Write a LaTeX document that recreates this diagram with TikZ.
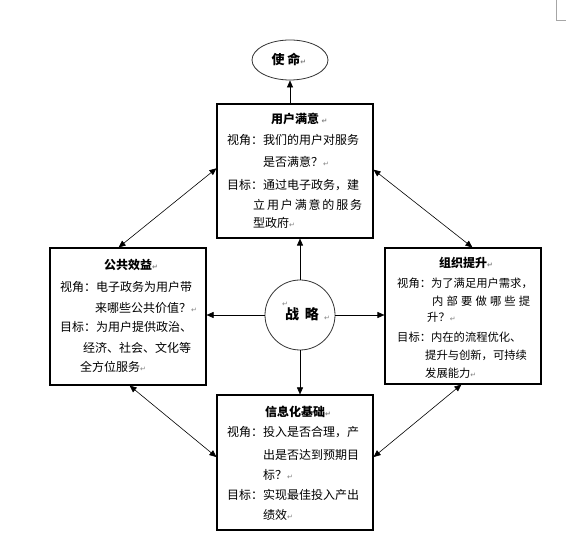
\documentclass[tikz,border=0pt]{standalone}
\usepackage{fontspec}
\setmainfont{Noto Sans CJK SC}
\newfontfamily\symfont{DejaVu Sans}
\usetikzlibrary{arrows.meta,calc,shapes.geometric}
\newcommand\pmark{{\symfont\fontsize{7}{7}\selectfont\color{gray}↵}}
\begin{document}
\begin{tikzpicture}[x=1pt,y=-1pt,
  box/.style={draw, line width=1.1pt, inner sep=0pt},
  txt/.style={anchor=base west, inner sep=0pt, font=\fontsize{12}{12}\selectfont},
  txts/.style={anchor=base west, inner sep=0pt, font=\fontsize{11.3}{12}\selectfont},
  head/.style={anchor=base, inner sep=0pt, font=\bfseries\fontsize{12}{12}\selectfont},
  tip/.style={-{Triangle[length=7pt,width=6pt]}, line width=0.6pt},
  dtip/.style={{Triangle[length=7pt,width=6pt]}-{Triangle[length=7pt,width=6pt]}, line width=0.6pt},
  round/.style={draw=black!80, line width=0.8pt, inner sep=0pt}]
\useasboundingbox (0,0) rectangle (566,540);
% page corner mark
\draw[gray!70, line width=0.6pt] (556,0) -- (556,20) -- (566,20);

% shapes
\node[round, ellipse, minimum width=76pt, minimum height=40pt] (mission) at (290,60) {};
\node[round, circle, minimum size=70pt] (strat) at (300,315) {};
\node[box, minimum width=156pt, minimum height=134pt] (top) at (295,171) {};
\node[box, minimum width=156pt, minimum height=137pt] (left) at (128,316.5) {};
\node[box, minimum width=156pt, minimum height=136pt] (right) at (463,316) {};
\node[box, minimum width=156pt, minimum height=135pt] (bottom) at (295,462.5) {};

% mission / strategy texts
\node[head, font=\bfseries\fontsize{13}{13}\selectfont] (mt) at (286,65) {使 命\rlap{\pmark}};
\node[head, font=\bfseries\fontsize{14}{14}\selectfont] (st) at (302,320) {战\hspace{6pt}略};
\node[inner sep=0pt] (sm1) at (285,304) {\pmark};
\node[inner sep=0pt] (sm2) at (327,318) {\pmark};

% top box
\node[head] (th) at (295,123.5) {用户满意\rlap{\ \pmark}};
\node[txt] (t1) at (227,144.5) {视角：我们的用户对服务};
\node[txt] (t2) at (263,166.5) {是否满意？\pmark};
\node[txt] (t3) at (227,189.5) {目标：通过电子政务，建};
\node[txt] (t4) at (253,209.5) {\makebox[109pt][s]{立 用 户 满 意 的 服 务}};
\node[txt] (t5) at (253,227.5) {型政府\pmark};

% left box
\node[head] (lh) at (128,269.5) {公共效益\rlap{\pmark}};
\node[txt] (l1) at (60,291.5) {视角：电子政务为用户带};
\node[txt] (l2) at (95,312.5) {来哪些公共价值？\pmark};
\node[txt] (l3) at (60,331.5) {目标：为用户提供政治、};
\node[txt] (l4) at (83,352.5) {经济、社会、文化等};
\node[txt] (l5) at (80,371.5) {全方位服务\pmark};

% right box
\node[head] (rh) at (463,267.5) {组织提升\rlap{\pmark}};
\node[txts] (r1) at (397,287.5) {视角：为了满足用户需求，};
\node[txts] (r2) at (432,305.5) {\makebox[98pt][s]{内 部 要 做 哪 些 提}};
\node[txts] (r3) at (427,321.5) {升？\pmark};
\node[txts] (r4) at (397,341.5) {目标：内在的流程优化、};
\node[txts] (r5) at (425,359.5) {提升与创新，可持续};
\node[txts] (r6) at (425,377.5) {发展能力\pmark};

% bottom box
\node[head] (bh) at (295,416.5) {信息化基础\rlap{\pmark}};
\node[txt] (b1) at (227,436.5) {视角：投入是否合理，产};
\node[txt] (b2) at (263,459.5) {出是否达到预期目};
\node[txt] (b3) at (263,479.5) {标？\pmark};
\node[txt] (b4) at (227,499.5) {目标：实现最佳投入产出};
\node[txt] (b5) at (263,519.5) {绩效\pmark};

% connectors
\draw[tip] (mission.south |- top.north) -- (mission.south);
\draw[tip] (strat.north) -- (strat.north |- top.south);
\draw[tip] (strat.west) -- (strat.west -| left.east);
\draw[tip] (strat.east) -- (strat.east -| right.west);
\draw[tip] (strat.south) -- (strat.south |- bottom.north);
\draw[dtip] ($(left.north west)!0.44!(left.north east)$) -- ($(top.north west)!0.48!(top.south west)$);
\draw[dtip] ($(top.north east)!0.49!(top.south east)$) -- ($(right.north west)!0.56!(right.north east)$);
\draw[dtip] ($(left.south west)!0.51!(left.south east)$) -- ($(bottom.north west)!0.46!(bottom.south west)$);
\draw[dtip] ($(right.south west)!0.49!(right.south east)$) -- ($(bottom.north east)!0.46!(bottom.south east)$);
\end{tikzpicture}
\end{document}
